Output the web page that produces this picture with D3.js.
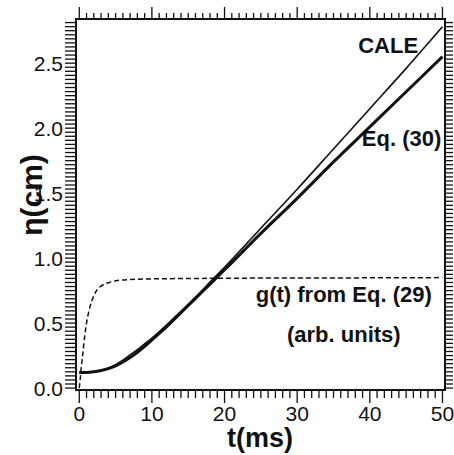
<!DOCTYPE html>
<html>
<head>
<meta charset="utf-8">
<script src="https://cdn.jsdelivr.net/npm/d3@7"></script>
<style>
  body { margin: 0; background: #fff; }
  svg text { font-family: "Liberation Sans", Arial, sans-serif; fill: #111; }
</style>
</head>
<body>
<svg id="chart" width="454" height="455"></svg>
<script>
// data
var timeMs   = [0, 1, 2, 3, 4, 5, 6, 7, 8, 9, 10, 12, 14, 16, 18, 20, 25, 30, 35, 40, 45, 50];
var etaEq30  = [0.12, 0.12, 0.125, 0.135, 0.15, 0.17, 0.2, 0.235, 0.275, 0.32, 0.37, 0.47, 0.58, 0.69, 0.80, 0.91, 1.19, 1.46, 1.74, 2.01, 2.28, 2.55];
var etaCale  = [0.12, 0.12, 0.125, 0.135, 0.155, 0.18, 0.215, 0.255, 0.295, 0.34, 0.385, 0.485, 0.59, 0.70, 0.815, 0.93, 1.23, 1.53, 1.84, 2.15, 2.46, 2.78];
var gTime    = [0, 0.15, 0.3, 0.5, 0.75, 1, 1.5, 2, 2.5, 3, 4, 5, 7, 10, 20, 30, 40, 50];
var gValue   = [0, 0.08, 0.17, 0.27, 0.4, 0.5, 0.63, 0.71, 0.76, 0.785, 0.81, 0.825, 0.835, 0.84, 0.845, 0.847, 0.848, 0.85];
var xTicks   = [0, 10, 20, 30, 40, 50];
var yTicks   = [0.0, 0.5, 1.0, 1.5, 2.0, 2.5];
var yTickFmt = ["0.0", "0.5", "1.0", "1.5", "2.0", "2.5"];
var labels   = [
  {text: "CALE", t: 38.4, v: 2.578},
  {text: "Eq. (30)", t: 38.9, v: 1.863},
  {text: "g(t) from Eq. (29)", t: 24.3, v: 0.662},
  {text: "(arb. units)", t: 28.6, v: 0.354}
];

var svg = d3.select("#chart");
// frame edges (avoid window.top clash)
var pLeft = 76, pRight = 445, pTop = 19, pBottom = 390;

var x = d3.scaleLinear().domain([-0.45, 50.35]).range([pLeft, pRight]);
var y = d3.scaleLinear().domain([-0.015, 2.84]).range([pBottom, pTop]);

var xMinor = d3.range(0, 50.01, 1);
var yMinor = d3.range(0, 2.84, 0.5 / 16);

function isMajorX(d) { return Math.abs(d % 10) < 1e-6; }

// bottom axis
var gb = svg.append("g").attr("transform", "translate(0," + pBottom + ")");
gb.selectAll("line").data(xMinor).enter().append("line")
  .attr("x1", function(d) { return x(d); })
  .attr("x2", function(d) { return x(d); })
  .attr("y1", 0)
  .attr("y2", function(d) { return isMajorX(d) ? 13 : 8; })
  .attr("stroke", "#111").attr("stroke-width", 1.3);
gb.selectAll("text").data(xTicks).enter().append("text")
  .attr("x", function(d) { return x(d); })
  .attr("y", 31)
  .attr("text-anchor", "middle")
  .style("font-size", "21px")
  .text(function(d) { return d; });

// top axis
var gt = svg.append("g").attr("transform", "translate(0," + pTop + ")");
gt.selectAll("line").data(xMinor).enter().append("line")
  .attr("x1", function(d) { return x(d); })
  .attr("x2", function(d) { return x(d); })
  .attr("y1", 0)
  .attr("y2", function(d) { return isMajorX(d) ? -12 : -6; })
  .attr("stroke", "#111").attr("stroke-width", 1.3);

// left axis
var gl = svg.append("g").attr("transform", "translate(" + pLeft + ",0)");
gl.selectAll("line").data(yMinor).enter().append("line")
  .attr("y1", function(d) { return y(d); })
  .attr("y2", function(d) { return y(d); })
  .attr("x1", 0).attr("x2", -11)
  .attr("stroke", "#111").attr("stroke-width", 1.3);
gl.selectAll("text").data(yTicks).enter().append("text")
  .attr("x", -13)
  .attr("y", function(d) { return y(d) + 7.5; })
  .attr("text-anchor", "end")
  .style("font-size", "21px")
  .text(function(d, i) { return yTickFmt[i]; });

// right axis
var gr = svg.append("g").attr("transform", "translate(" + pRight + ",0)");
gr.selectAll("line").data(yMinor).enter().append("line")
  .attr("y1", function(d) { return y(d); })
  .attr("y2", function(d) { return y(d); })
  .attr("x1", 0).attr("x2", 8)
  .attr("stroke", "#111").attr("stroke-width", 1.3);

// frame
svg.append("rect")
  .attr("x", pLeft).attr("y", pTop)
  .attr("width", pRight - pLeft).attr("height", pBottom - pTop)
  .attr("fill", "none").attr("stroke", "#111").attr("stroke-width", 2);

// curves
var line = d3.line().curve(d3.curveMonotoneX)
  .x(function(d) { return x(d[0]); })
  .y(function(d) { return y(d[1]); });

svg.append("path")
  .datum(gTime.map(function(t, i) { return [t, gValue[i]]; }))
  .attr("d", line)
  .attr("fill", "none").attr("stroke", "#111")
  .attr("stroke-width", 1.5).attr("stroke-dasharray", "5,3");

svg.append("path")
  .datum(timeMs.map(function(t, i) { return [t, etaCale[i]]; }))
  .attr("d", line)
  .attr("fill", "none").attr("stroke", "#111").attr("stroke-width", 1.6);

svg.append("path")
  .datum(timeMs.map(function(t, i) { return [t, etaEq30[i]]; }))
  .attr("d", line)
  .attr("fill", "none").attr("stroke", "#111").attr("stroke-width", 3);

// annotations
svg.selectAll("text.note").data(labels).enter().append("text")
  .attr("class", "note")
  .attr("x", function(d) { return x(d.t); })
  .attr("y", function(d) { return y(d.v); })
  .style("font-size", "22px").style("font-weight", "bold")
  .text(function(d) { return d.text; });

// axis titles
svg.append("text")
  .attr("x", 260).attr("y", 447)
  .attr("text-anchor", "middle")
  .style("font-size", "27px").style("font-weight", "bold")
  .text("t(ms)");

svg.append("text")
  .attr("transform", "translate(42,195) rotate(-90)")
  .attr("text-anchor", "middle")
  .style("font-size", "30px").style("font-weight", "bold")
  .text("η(cm)");
</script>
</body>
</html>
